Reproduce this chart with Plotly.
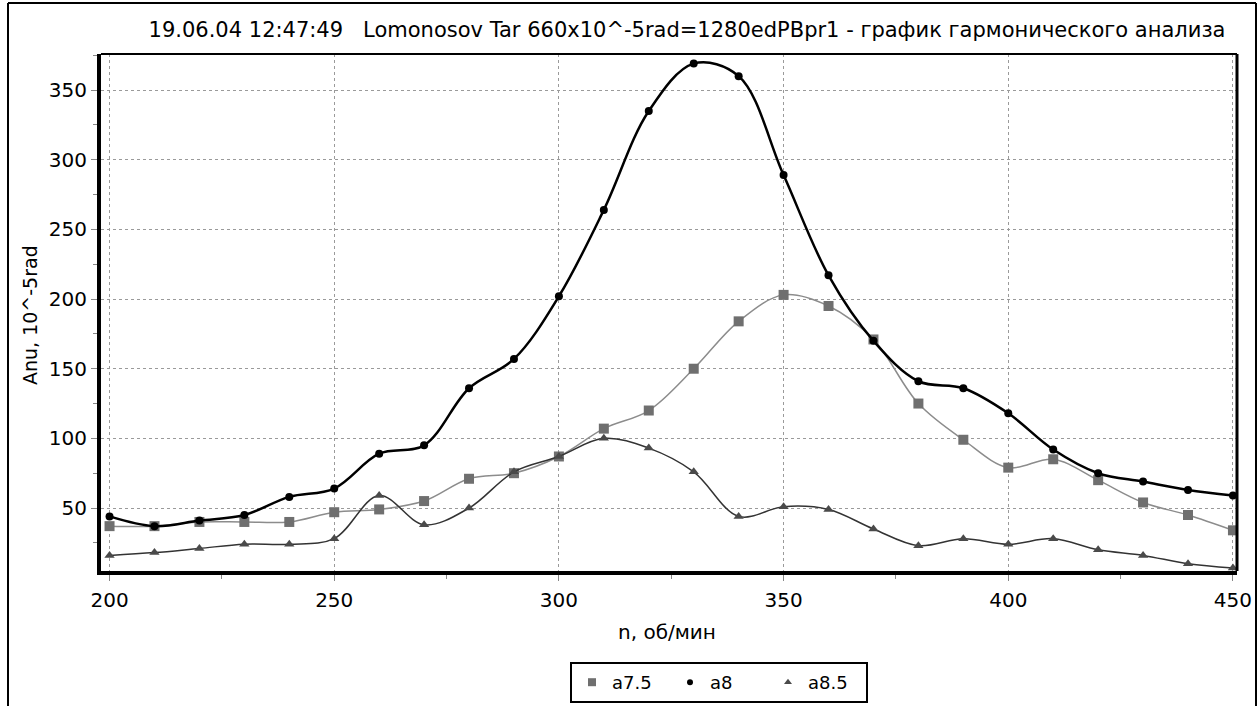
import plotly.graph_objects as go

# Rotation speed, rpm
n = [200, 210, 220, 230, 240, 250, 260, 270, 280, 290, 300, 310, 320,
     330, 340, 350, 360, 370, 380, 390, 400, 410, 420, 430, 440, 450]

# Harmonic amplitudes, 10^-5 rad
a7_5 = [37, 37, 40, 40, 40, 47, 49, 55, 71, 75, 87, 107, 120,
        150, 184, 203, 195, 171, 125, 99, 79, 85, 70, 54, 45, 34]
a8 = [44, 37, 41, 45, 58, 64, 89, 95, 136, 157, 202, 264, 335,
      369, 360, 289, 217, 170, 141, 136, 118, 92, 75, 69, 63, 59]
a8_5 = [16, 18, 21, 24, 24, 28, 59, 38, 50, 76, 87, 100, 93,
        76, 44, 51, 49, 35, 23, 28, 24, 28, 20, 16, 10, 7]

x_ticks = [200, 250, 300, 350, 400, 450]
y_ticks = [50, 100, 150, 200, 250, 300, 350]

FONT = "DejaVu Sans"
W, H = 1258, 706

series = [
    ("a7.5", a7_5, dict(color="#8c8c8c", width=1.5), dict(symbol="square", size=10, color="#6f6f6f")),
    ("a8", a8, dict(color="black", width=2.5), dict(symbol="circle", size=8, color="black")),
    ("a8.5", a8_5, dict(color="#333333", width=1.5), dict(symbol="triangle-up", size=9, color="#4a4a4a")),
]

fig = go.Figure()
for name, vals, line, marker in series:
    fig.add_trace(go.Scatter(
        x=n, y=vals, mode="lines+markers", name=name,
        line=dict(shape="spline", smoothing=1, **line),
        marker=marker, showlegend=False,
    ))
# legend entries show the marker symbol only
for name, vals, line, marker in series:
    fig.add_trace(go.Scatter(
        x=[None], y=[None], mode="markers", name=name,
        marker=dict(marker, size=marker["size"] - 2), showlegend=True,
    ))

axis_common = dict(
    showline=True, linecolor="black", linewidth=4, mirror=False,
    ticks="outside", ticklen=6, tickcolor="#888888", tickwidth=1,
    showgrid=True, gridcolor="#9a9a9a", gridwidth=1, griddash="dot",
    zeroline=False, automargin=False,
    tickfont=dict(family=FONT, size=20, color="black"),
)

fig.update_xaxes(
    range=[198.1, 450.9], tickvals=x_ticks,
    minor=dict(tickvals=[225, 275, 325, 375, 425], ticks="outside", ticklen=4,
               tickcolor="#888888", showgrid=False),
    ticklabelstandoff=2,
    **axis_common,
)
fig.update_yaxes(
    range=[4.8, 375.9], tickvals=y_ticks,
    minor=dict(tickvals=[25, 75, 125, 175, 225, 275, 325, 375], ticks="outside",
               ticklen=4, tickcolor="#888888", showgrid=False),
    **axis_common,
)

fig.update_layout(
    width=W, height=H,
    margin=dict(l=101, r=21, t=54, b=135),
    paper_bgcolor="white", plot_bgcolor="white",
    font=dict(family=FONT, color="black"),
    title=dict(
        text="19.06.04 12:47:49   Lomonosov Tar 660x10^-5rad=1280edPBpr1 - график гармонического анализа",
        x=687 / W, xanchor="center", y=1 - 30 / H, yanchor="middle",
        font=dict(family=FONT, size=21, color="black"),
    ),
    legend=dict(
        orientation="h", xref="container", yref="container",
        x=719 / W, xanchor="center", y=(H - 703) / H, yanchor="bottom",
        bordercolor="black", borderwidth=2, bgcolor="white",
        font=dict(family=FONT, size=18, color="black"),
        entrywidth=53,
    ),
    annotations=[
        dict(text="Anu, 10^-5rad", xref="paper", yref="paper",
             x=(30 - 101) / 1136, y=(571 - 315) / 517, textangle=-90, showarrow=False,
             xanchor="center", yanchor="middle",
             font=dict(family=FONT, size=19, color="black")),
        dict(text="n, об/мин", xref="paper", yref="paper",
             x=(667 - 101) / 1136, y=(571 - 632) / 517, showarrow=False,
             xanchor="center", yanchor="middle",
             font=dict(family=FONT, size=20, color="black")),
    ],
    shapes=[
        # thin top and right borders of the plotting area
        dict(type="line", xref="paper", yref="paper", x0=0, x1=1, y0=1, y1=1,
             line=dict(color="black", width=2)),
        dict(type="line", xref="paper", yref="paper", x0=1, x1=1, y0=0, y1=1,
             line=dict(color="black", width=3)),
        # outer frame of the chart window
        dict(type="line", xref="paper", yref="paper", x0=(8 - 101) / 1136, x1=(8 - 101) / 1136,
             y0=(571 - 3) / 517, y1=(571 - 710) / 517, line=dict(color="black", width=2)),
        dict(type="line", xref="paper", yref="paper", x0=(8 - 101) / 1136, x1=(1256 - 101) / 1136,
             y0=(571 - 3) / 517, y1=(571 - 3) / 517, line=dict(color="black", width=2)),
        dict(type="line", xref="paper", yref="paper", x0=(1256 - 101) / 1136, x1=(1256 - 101) / 1136,
             y0=(571 - 3) / 517, y1=(571 - 710) / 517, line=dict(color="black", width=2)),
    ],
)

fig.write_html("out.html")
